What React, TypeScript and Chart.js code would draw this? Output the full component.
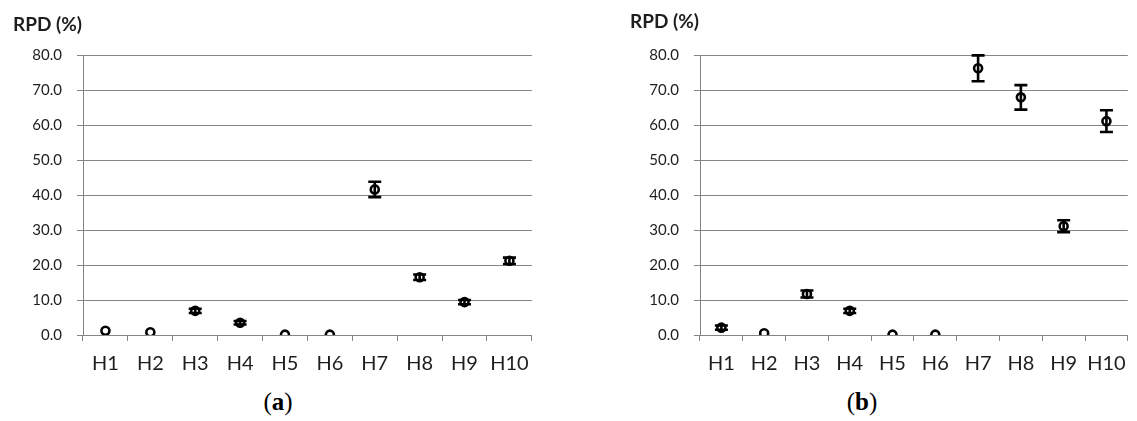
import React, { useEffect, useRef } from 'react';
import { Chart, registerables } from 'chart.js';

Chart.register(...registerables);

const categories = ['H1', 'H2', 'H3', 'H4', 'H5', 'H6', 'H7', 'H8', 'H9', 'H10'];
const rpdA = [1.2, 0.8, 6.9, 3.5, 0.1, 0.1, 41.6, 16.5, 9.4, 21.2];
const errA = [0, 0, 0.6, 0.5, 0, 0, 2.2, 0.8, 0.6, 0.9];
const rpdB = [2.1, 0.5, 11.7, 6.9, 0.1, 0.1, 76.2, 67.9, 31.1, 61.1];
const errB = [0.6, 0, 1.0, 0.6, 0, 0, 3.7, 3.5, 1.7, 3.1];
const yTickValues = [0, 10, 20, 30, 40, 50, 60, 70, 80];
const axisTitle = 'RPD (%)';

const GRID = '#858585';
const TEXT = '#1e1e1e';

function errorBarPlugin(errors: number[]) {
  return {
    id: 'errorBars',
    afterDatasetsDraw(chart: any) {
      const { ctx } = chart;
      const x = chart.scales.x;
      const y = chart.scales.y;
      const vals = chart.data.datasets[0].data as number[];
      ctx.save();
      ctx.strokeStyle = '#000';
      ctx.lineWidth = 2.6;
      vals.forEach((v, i) => {
        const e = errors[i];
        if (!e) return;
        const px = x.getPixelForValue(i);
        const top = y.getPixelForValue(v + e);
        const bot = y.getPixelForValue(Math.max(0, v - e));
        ctx.beginPath();
        ctx.moveTo(px, top);
        ctx.lineTo(px, bot);
        ctx.moveTo(px - 6.5, top);
        ctx.lineTo(px + 6.5, top);
        ctx.moveTo(px - 6.5, bot);
        ctx.lineTo(px + 6.5, bot);
        ctx.stroke();
      });
      ctx.restore();
    },
  };
}

function titlePlugin(titleY: number) {
  return {
    id: 'axisTitleTop',
    afterDraw(chart: any) {
      const { ctx, chartArea } = chart;
      ctx.save();
      ctx.font = 'bold 19px Lato';
      ctx.fillStyle = TEXT;
      ctx.textAlign = 'right';
      ctx.textBaseline = 'middle';
      ctx.fillText(axisTitle, chartArea.left - 1, titleY);
      ctx.restore();
    },
  };
}

function makeConfig(values: number[], errors: number[], yWidth: number, padRight: number, titleY: number): any {
  return {
    type: 'line',
    data: {
      labels: categories,
      datasets: [
        {
          data: values,
          showLine: false,
          pointRadius: 4,
          pointHoverRadius: 4,
          pointBorderWidth: 2.6,
          pointBorderColor: '#000',
          pointBackgroundColor: 'rgba(0,0,0,0)',
        },
      ],
    },
    options: {
      responsive: false,
      animation: false,
      devicePixelRatio: 1,
      layout: { padding: { left: 0, top: 55, right: padRight, bottom: 0 } },
      plugins: {
        legend: { display: false },
        tooltip: { enabled: false },
        title: { display: false },
      },
      scales: {
        x: {
          type: 'category',
          offset: true,
          grid: { offset: true, drawOnChartArea: false, tickLength: 6, color: GRID, lineWidth: 1 },
          border: { color: GRID, width: 1 },
          ticks: {
            font: { family: 'Lato', size: 20 },
            color: TEXT,
            padding: 11,
            maxRotation: 0,
            autoSkip: false,
          },
          afterFit: (s: any) => {
            s.height = 45;
          },
        },
        y: {
          min: 0,
          max: 80,
          afterBuildTicks: (s: any) => {
            s.ticks = yTickValues.map((v) => ({ value: v }));
          },
          ticks: {
            callback: (v: any) => Number(v).toFixed(1),
            font: { family: 'Lato', size: 15 },
            color: TEXT,
            padding: 15,
          },
          grid: { color: GRID, lineWidth: 1, tickLength: 6, drawTicks: true },
          border: { color: GRID, width: 1 },
          afterFit: (s: any) => {
            s.width = yWidth;
          },
        },
      },
    },
    plugins: [errorBarPlugin(errors), titlePlugin(titleY)],
  };
}

function ChartCanvas(props: { values: number[]; errors: number[]; width: number; yWidth: number; padRight: number; titleY: number; left: number }) {
  const ref = useRef<HTMLCanvasElement | null>(null);
  useEffect(() => {
    if (!ref.current) return;
    const chart = new Chart(ref.current, makeConfig(props.values, props.errors, props.yWidth, props.padRight, props.titleY));
    return () => chart.destroy();
  }, []);
  return (
    <canvas
      ref={ref}
      width={props.width}
      height={380}
      style={{ position: 'absolute', left: props.left, top: 0, width: props.width, height: 380 }}
    />
  );
}

const captionStyle: React.CSSProperties = {
  position: 'absolute',
  top: 388,
  width: 100,
  textAlign: 'center',
  fontFamily: '"Liberation Serif", serif',
  fontSize: 25,
  color: '#000',
  lineHeight: '28px',
};

export default function App() {
  return (
    <div style={{ position: 'absolute', left: 0, top: 0, width: 1137, height: 421, background: '#fff', overflow: 'hidden' }}>
      <ChartCanvas values={rpdA} errors={errA} width={540} yWidth={83} padRight={7} titleY={25} left={0} />
      <ChartCanvas values={rpdB} errors={errB} width={557} yWidth={120} padRight={1} titleY={22} left={580} />
      <div style={{ ...captionStyle, left: 228 }}>
        (<b>a</b>)
      </div>
      <div style={{ ...captionStyle, left: 812 }}>
        (<b>b</b>)
      </div>
    </div>
  );
}
